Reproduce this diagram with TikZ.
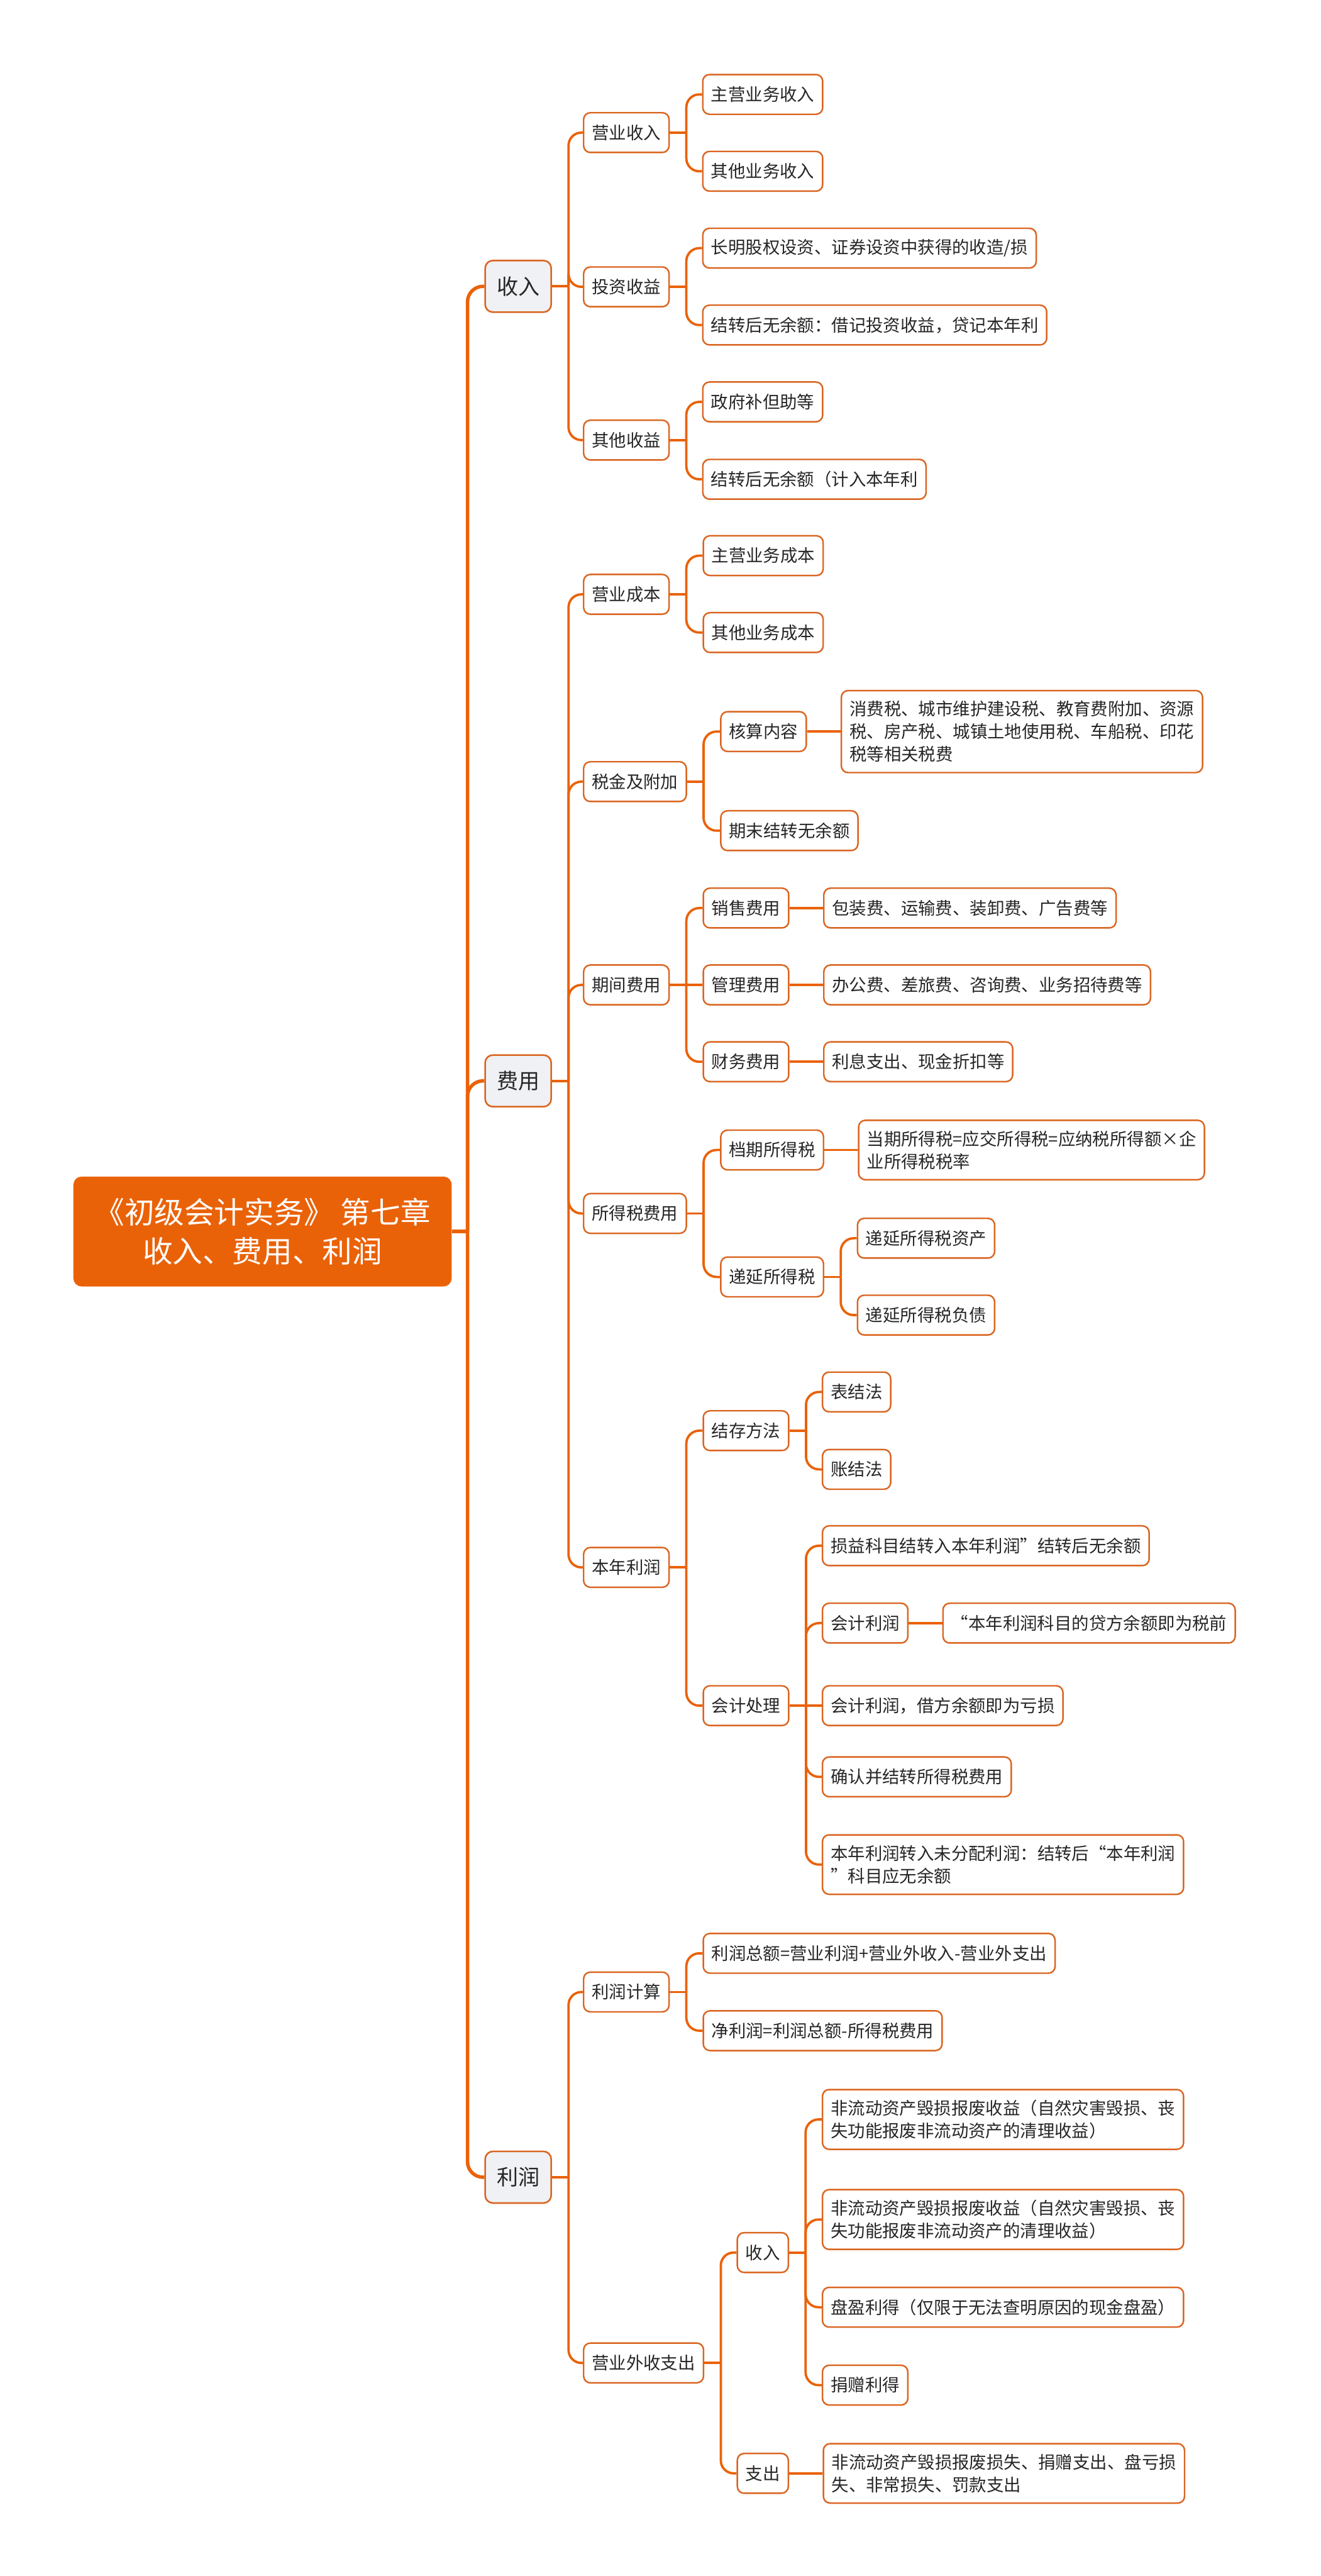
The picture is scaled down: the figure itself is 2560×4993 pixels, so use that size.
\documentclass[tikz,border=0pt]{standalone}
\usepackage{fontspec}
\setmainfont{Noto Sans CJK SC}
\definecolor{mmorange}{RGB}{234,98,8}
\definecolor{mmedge}{RGB}{218,102,34}
\definecolor{mmgray}{RGB}{239,241,244}
\definecolor{mmtext}{RGB}{38,38,38}
\usetikzlibrary{positioning}

\begin{document}
\begin{tikzpicture}[
    x=0.01cm, y=-0.01cm,
    font=\fontsize{9.5pt}{12.5pt}\selectfont,
    text=mmtext,
    rootbox/.style={
        fill=mmorange,
        text=white,
        rounded corners=0.16cm,
        align=center,
        minimum width=7.33cm,
        minimum height=2.13cm,
        font=\fontsize{16.5pt}{21.8pt}\selectfont
    },
    topic/.style={
        draw=mmedge,
        line width=0.9pt,
        fill=mmgray,
        rounded corners=0.15cm,
        minimum width=1.28cm,
        minimum height=1.0cm,
        anchor=west,
        font=\fontsize{11.8pt}{14pt}\selectfont
    },
    item/.style={
        draw=mmedge,
        line width=0.85pt,
        fill=white,
        rounded corners=0.13cm,
        align=left,
        inner xsep=0.16cm,
        inner ysep=0.2cm,
        minimum height=0.77cm,
        anchor=west
    },
    trunk/.style={draw=mmorange, line width=1.9pt, rounded corners=0.3cm},
    link/.style={draw=mmorange, line width=1.3pt, rounded corners=0.25cm}
]
    \useasboundingbox (0,0) rectangle (2560,4993);

    \node[rootbox] (root) at (509,2387) {《初级会计实务》 第七章\\收入、费用、利润};

    \node[topic] (income) at (939,555) {收入};
    \node[topic] (expense) at (939,2095) {费用};
    \node[topic] (profit) at (939,4220) {利润};

    % 收入
    \node[item] (opinc) at (1130,257) {营业收入};
    \node[item] (invinc) at (1130,556) {投资收益};
    \node[item] (othinc) at (1130,853) {其他收益};
    \node[item] (zyinc) at (1361,183) {主营业务收入};
    \node[item] (qtinc) at (1361,332) {其他业务收入};
    \node[item] (invgain) at (1361,481) {长明股权设资、证券设资中获得的收造/损};
    \node[item] (invclose) at (1361,630) {结转后无余额：借记投资收益，贷记本年利};
    \node[item] (subsidy) at (1361,779) {政府补但助等};
    \node[item] (othclose) at (1361,929) {结转后无余额（计入本年利};

    % 费用
    \node[item] (opcost) at (1130,1152) {营业成本};
    \node[item] (zycost) at (1362,1077) {主营业务成本};
    \node[item] (qtcost) at (1362,1226) {其他业务成本};
    \node[item] (taxsur) at (1130,1515) {税金及附加};
    \node[item] (hesuan) at (1396,1418) {核算内容};
    \node[item, right=0.65cm of hesuan] (xiaofei) {消费税、城市维护建设税、教育费附加、资源\\税、房产税、城镇土地使用税、车船税、印花\\税等相关税费};
    \node[item] (qmjz) at (1396,1610) {期末结转无余额};
    \node[item] (period) at (1130,1909) {期间费用};
    \node[item] (sales) at (1362,1760) {销售费用};
    \node[item] (admin) at (1362,1909) {管理费用};
    \node[item] (fin) at (1362,2058) {财务费用};
    \node[item, right=0.65cm of sales] (salesd) {包装费、运输费、装卸费、广告费等};
    \node[item, right=0.65cm of admin] (admind) {办公费、差旅费、咨询费、业务招待费等};
    \node[item, right=0.65cm of fin] (find) {利息支出、现金折扣等};
    \node[item] (itax) at (1130,2352) {所得税费用};
    \node[item] (curtax) at (1396,2229) {档期所得税};
    \node[item, right=0.65cm of curtax] (curtaxd) {当期所得税=应交所得税=应纳税所得额×企\\业所得税税率};
    \node[item] (deftax) at (1396,2475) {递延所得税};
    \node[item] (defasset) at (1661,2400) {递延所得税资产};
    \node[item] (defliab) at (1661,2549) {递延所得税负债};
    \node[item] (curprof) at (1130,3038) {本年利润};
    \node[item] (method) at (1362,2773) {结存方法};
    \node[item] (biaojie) at (1593,2698) {表结法};
    \node[item] (zhangjie) at (1593,2848) {账结法};
    \node[item] (acct) at (1362,3306) {会计处理};
    \node[item] (sunyi) at (1593,2996) {损益科目结转入本年利润”结转后无余额};
    \node[item] (kjlr) at (1593,3146) {会计利润};
    \node[item, right=0.65cm of kjlr] (kjlrd) {“本年利润科目的贷方余额即为税前};
    \node[item] (kjks) at (1593,3306) {会计利润，借方余额即为亏损};
    \node[item] (qrjz) at (1593,3444) {确认并结转所得税费用};
    \node[item] (zhuanru) at (1593,3614) {本年利润转入未分配利润：结转后“本年利润\\”科目应无余额};

    % 利润
    \node[item] (calc) at (1130,3861) {利润计算};
    \node[item] (total) at (1362,3786) {利润总额=营业利润+营业外收入-营业外支出};
    \node[item] (net) at (1362,3936) {净利润=利润总额-所得税费用};
    \node[item] (nonop) at (1130,4580) {营业外收支出};
    \node[item] (nsr) at (1428,4366) {收入};
    \node[item] (nzc) at (1428,4794) {支出};
    \node[item] (gain1) at (1593,4108) {非流动资产毁损报废收益（自然灾害毁损、丧\\失功能报废非流动资产的清理收益）};
    \node[item] (gain2) at (1593,4302) {非流动资产毁损报废收益（自然灾害毁损、丧\\失功能报废非流动资产的清理收益）};
    \node[item] (panying) at (1593,4472) {盘盈利得（仅限于无法查明原因的现金盘盈）};
    \node[item] (juanzeng) at (1593,4623) {捐赠利得};
    \node[item, right=0.65cm of nzc] (loss) {非流动资产毁损报废损失、捐赠支出、盘亏损\\失、非常损失、罚款支出};

    % connectors
    \foreach \c in {income, expense, profit}{
        \draw[trunk] (root.east) -- ++(30,0);
        \draw[trunk] (root.east) ++(30,0) |- (\c.west);
    }
    \foreach \p/\c in {income/opinc, income/invinc, income/othinc,
        opinc/zyinc, opinc/qtinc, invinc/invgain, invinc/invclose,
        othinc/subsidy, othinc/othclose,
        expense/opcost, expense/taxsur, expense/period, expense/itax, expense/curprof,
        opcost/zycost, opcost/qtcost, taxsur/hesuan, taxsur/qmjz,
        period/sales, period/fin, itax/curtax, itax/deftax,
        deftax/defasset, deftax/defliab, curprof/method, curprof/acct,
        method/biaojie, method/zhangjie, acct/sunyi, acct/kjlr, acct/qrjz, acct/zhuanru,
        profit/calc, profit/nonop, calc/total, calc/net, nonop/nsr, nonop/nzc,
        nsr/gain1, nsr/gain2, nsr/panying, nsr/juanzeng}{
        \draw[link] (\p.east) -- ++(32,0);
        \draw[link] (\p.east) ++(32,0) |- (\c.west);
    }
    \foreach \p/\c in {hesuan/xiaofei, period/admin, sales/salesd, admin/admind,
        fin/find, curtax/curtaxd, kjlr/kjlrd, acct/kjks, nzc/loss}
        \draw[link] (\p.east) -- (\c.west);
\end{tikzpicture}
\end{document}
